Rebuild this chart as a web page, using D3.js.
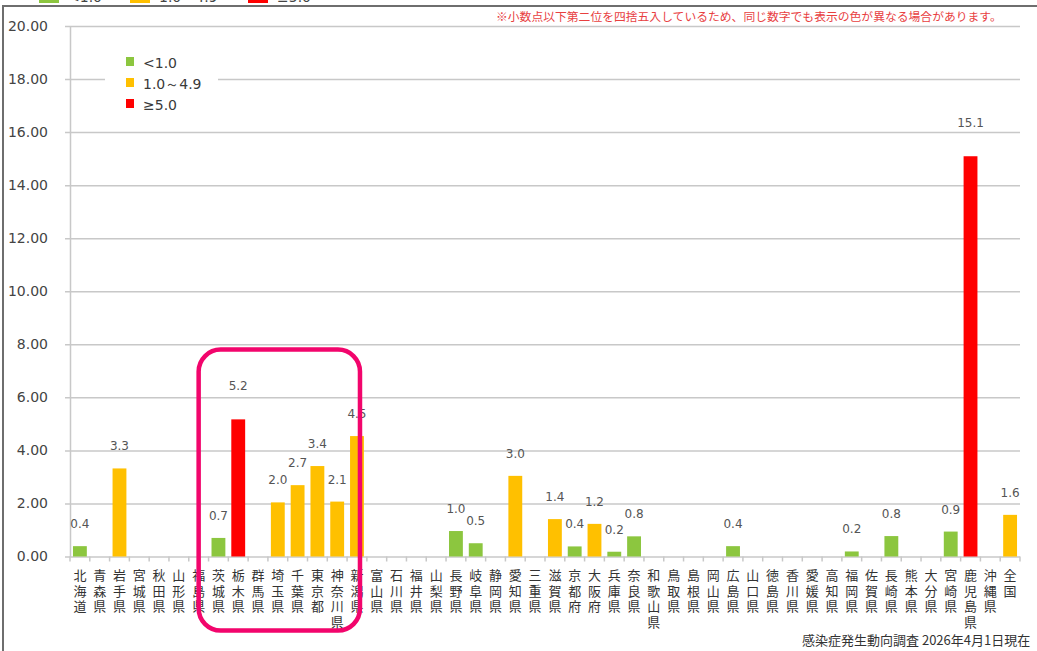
<!DOCTYPE html>
<html>
<head>
<meta charset="utf-8">
<script src="https://cdn.jsdelivr.net/npm/d3@7"></script>
<style>
  html, body { margin: 0; padding: 0; background: #fff; overflow: hidden; }
  svg { display: block; }
</style>
</head>
<body>
<div id="chart"></div>
<script>
'use strict';

// prefectures (plus national total) in chart order
const prefectures = [
  '北海道', '青森県', '岩手県', '宮城県', '秋田県', '山形県', '福島県', '茨城県',
  '栃木県', '群馬県', '埼玉県', '千葉県', '東京都', '神奈川県', '新潟県', '富山県',
  '石川県', '福井県', '山梨県', '長野県', '岐阜県', '静岡県', '愛知県', '三重県',
  '滋賀県', '京都府', '大阪府', '兵庫県', '奈良県', '和歌山県', '鳥取県', '島根県',
  '岡山県', '広島県', '山口県', '徳島県', '香川県', '愛媛県', '高知県', '福岡県',
  '佐賀県', '長崎県', '熊本県', '大分県', '宮崎県', '鹿児島県', '沖縄県', '全国'
];

// reports per sentinel (unrounded)
const rates = [
  0.39, 0, 3.32, 0, 0, 0, 0, 0.70,
  5.17, 0, 2.04, 2.69, 3.41, 2.07, 4.54, 0,
  0, 0, 0, 0.96, 0.50, 0, 3.04, 0,
  1.41, 0.38, 1.23, 0.18, 0.76, 0, 0, 0,
  0, 0.39, 0, 0, 0, 0, 0, 0.19,
  0, 0.77, 0, 0, 0.94, 15.09, 0, 1.57
];

const yTicks = [0, 2, 4, 6, 8, 10, 12, 14, 16, 18, 20];

const legendLabels = ['<1.0', '1.0～4.9', '≥5.0'];
const legendColors = ['#8cc63f', '#ffc000', '#ff0000'];

const note = '※小数点以下第二位を四捨五入しているため、同じ数字でも表示の色が異なる場合があります。';
const source = '感染症発生動向調査 2026年4月1日現在';

const data = prefectures.map((p, i) => ({ name: p, value: rates[i] }));

// color class depends on the raw value, label shows the rounded one
function colorOf(v) {
  if (v < 1) return legendColors[0];
  if (v < 5) return legendColors[1];
  return legendColors[2];
}

const W = 1037, H = 651;
const numFont = '"DejaVu Sans", Verdana, sans-serif';
const jpFont = '"Noto Sans CJK JP", "Noto Sans", sans-serif';

const svg = d3.select('#chart').append('svg')
    .attr('width', W)
    .attr('height', H);

svg.append('rect').attr('width', W).attr('height', H).attr('fill', '#fff');

// outer frame (extends past the window on the right and bottom)
svg.append('rect')
    .attr('x', 3).attr('y', 6)
    .attr('width', 1100).attr('height', 700)
    .attr('fill', 'none')
    .attr('stroke', '#6e6e6e')
    .attr('stroke-width', 2);

// top legend, mostly cut off by the window edge
const topLegendX = [39, 130, 248];
const topLegend = svg.append('g');
legendLabels.forEach((lab, i) => {
  topLegend.append('rect')
      .attr('x', topLegendX[i]).attr('y', -12)
      .attr('width', 20).attr('height', 15)
      .attr('fill', legendColors[i]);
  topLegend.append('text')
      .attr('x', topLegendX[i] + 29).attr('y', 2)
      .attr('font-family', numFont).attr('font-size', 14)
      .attr('fill', '#444')
      .text(lab);
});

// scales
const x = d3.scaleBand()
    .domain(prefectures)
    .range([70, 1020])
    .paddingInner(0.3)
    .paddingOuter(0.15);

const y = d3.scaleLinear()
    .domain([0, 20])
    .range([556.5, 26]);

const cx = d => x(d) + x.bandwidth() / 2;

// y axis with gridlines
const yAxis = svg.append('g')
    .attr('transform', 'translate(70,0)')
    .call(d3.axisLeft(y)
        .tickValues(yTicks)
        .tickSizeInner(-950)
        .tickSizeOuter(0)
        .tickPadding(22)
        .tickFormat(d3.format('.2f')));

yAxis.select('.domain')
    .attr('stroke', '#c8c8c8')
    .attr('stroke-width', 1.5);
yAxis.selectAll('.tick line')
    .attr('x1', -5)
    .attr('stroke', '#c8c8c8')
    .attr('stroke-width', 1.5);
yAxis.selectAll('.tick text')
    .attr('font-family', numFont)
    .attr('font-size', 14)
    .attr('fill', '#444');

// x axis ticks sit on the band boundaries
const xAxis = svg.append('g')
    .attr('transform', 'translate(0,' + y(0) + ')');
const boundaries = prefectures.map(p => x(p) - x.step() * x.paddingInner() / 2)
    .concat([x.range()[1]]);
xAxis.selectAll('line.xt')
    .data(boundaries)
    .enter().append('line')
    .attr('class', 'xt')
    .attr('x1', d => d).attr('x2', d => d)
    .attr('y1', 0).attr('y2', 5)
    .attr('stroke', '#c8c8c8')
    .attr('stroke-width', 1.5);

// vertical category labels, one character per line
const chars = [];
prefectures.forEach(p => {
  Array.from(p).forEach((ch, i) => chars.push({ name: p, ch: ch, row: i }));
});
xAxis.selectAll('text.xl')
    .data(chars)
    .enter().append('text')
    .attr('class', 'xl')
    .attr('x', d => cx(d.name))
    .attr('y', d => 23.5 + d.row * 15.7)
    .attr('font-family', jpFont)
    .attr('font-size', 13)
    .attr('fill', '#333')
    .attr('text-anchor', 'middle')
    .text(d => d.ch);

// bars
svg.selectAll('.bar')
    .data(data.filter(d => d.value > 0))
    .enter().append('rect')
    .attr('class', 'bar')
    .attr('x', d => x(d.name))
    .attr('y', d => y(d.value))
    .attr('width', x.bandwidth())
    .attr('height', d => y(0) - y(d.value))
    .attr('fill', d => colorOf(d.value));

// value labels
svg.selectAll('.val')
    .data(data.filter(d => d.value > 0))
    .enter().append('text')
    .attr('class', 'val')
    .attr('x', d => cx(d.name))
    .attr('y', d => y(d.value) - (d.value >= 5 ? 29 : 18))
    .attr('text-anchor', 'middle')
    .attr('font-family', numFont)
    .attr('font-size', 12)
    .attr('fill', '#555')
    .text(d => d.value.toFixed(1));

// inner legend
const legend = svg.append('g');
legend.append('rect')
    .attr('x', 105).attr('y', 46)
    .attr('width', 113).attr('height', 72)
    .attr('fill', '#fff');
legendLabels.forEach((lab, i) => {
  legend.append('rect')
      .attr('x', 126).attr('y', 57 + i * 21)
      .attr('width', 8).attr('height', 9)
      .attr('fill', legendColors[i]);
  legend.append('text')
      .attr('x', 143).attr('y', 68 + i * 21)
      .attr('font-family', numFont)
      .attr('font-size', 14)
      .attr('fill', '#3a3a3a')
      .text(lab);
});

// rounding note
svg.append('text')
    .attr('x', 496).attr('y', 21)
    .attr('font-family', jpFont)
    .attr('font-size', 11.8)
    .attr('fill', '#e8403f')
    .text(note);

// source line (runs past the right edge)
svg.append('text')
    .attr('x', 802).attr('y', 645)
    .attr('font-family', jpFont)
    .attr('font-size', 13)
    .attr('fill', '#333')
    .text(source);

// highlight around the Kanto group
const hlLeft = cx('福島県');
const hlRight = cx('新潟県') + 3;
svg.append('rect')
    .attr('x', hlLeft)
    .attr('y', y(7.8))
    .attr('width', hlRight - hlLeft)
    .attr('height', y(0) + 74 - y(7.8))
    .attr('rx', 22).attr('ry', 22)
    .attr('fill', 'none')
    .attr('stroke', '#f2056c')
    .attr('stroke-width', 4.5);
</script>
</body>
</html>
